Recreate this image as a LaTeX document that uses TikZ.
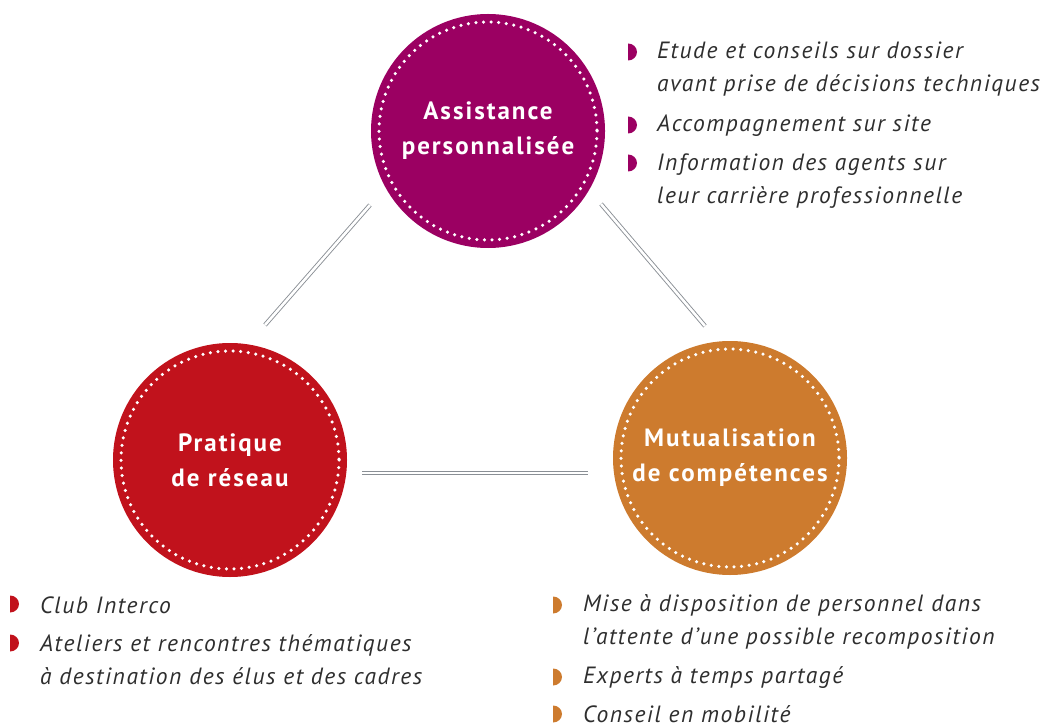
\documentclass[tikz,border=0pt]{standalone}
\usepackage{fontspec}
\setmainfont{PT Sans}
\newfontfamily\hubfont[LetterSpace=8]{PT Sans}
\newfontfamily\itemfont[LetterSpace=6.5]{PT Sans}
\definecolor{cpurple}{HTML}{9B0062}
\definecolor{cred}{HTML}{C1121C}
\definecolor{corange}{HTML}{CD7B2E}
\definecolor{ctext}{HTML}{2E2E2E}
\definecolor{cline}{HTML}{8A8F95}
\begin{document}
\begin{tikzpicture}[x=1pt,y=-1pt,
  hub/.style={circle,minimum size=234pt,inner sep=0pt,text=white,align=center,
    font=\hubfont\bfseries\fontsize{25}{35}\selectfont},
  ring/.style={white,line width=3.5pt,line cap=round,dash pattern=on 0pt off 7.6pt},
  link/.style={draw=cline,line width=0.9pt,double=white,double distance=2.6pt},
  item/.style={anchor=west,text=ctext,align=left,inner sep=0pt,
    font=\itemfont\itshape\fontsize{23.5}{33}\selectfont}]
\useasboundingbox (0,0) rectangle (1051,727);
% hubs
\node[hub,fill=cpurple] (top) at (488,131) {Assistance\\personnalisée};
\node[hub,fill=cred] (left) at (230,460) {Pratique\\de réseau};
\node[hub,fill=corange] (right) at (730,458) {Mutualisation\\de compétences};
\foreach \n in {top,left,right}{\draw[ring] (\n.center) circle (109);}
% connectors
\coordinate (tl1) at (370,205); \coordinate (tl2) at (265,325);
\coordinate (tr1) at (601,204); \coordinate (tr2) at (705,326);
\coordinate (b1) at (362,473); \coordinate (b2) at (588,473);
\draw[link] (tl1) -- (tl2);
\draw[link] (tr1) -- (tr2);
\draw[link] (b1) -- (b2);
% bullet
\tikzset{bul/.pic={\fill[pic actions] (0,-8.5) -- (0,8.5) arc[start angle=90,end angle=-90,x radius=9,y radius=8.5] -- cycle;}}
% top list
\pic[fill=cpurple] at (628,52) {bul};
\pic[fill=cpurple] at (628,125) {bul};
\pic[fill=cpurple] at (628,163) {bul};
\node[item] (t1) at (657,69) {Etude et conseils sur dossier\\avant prise de décisions techniques};
\node[item] (t2) at (657,126) {Accompagnement sur site};
\node[item] (t3) at (657,181) {Information des agents sur\\leur carrière professionnelle};
% left list
\pic[fill=cred] at (10,604) {bul};
\pic[fill=cred] at (10,643) {bul};
\node[item] (l1) at (40,605) {Club Interco};
\node[item] (l2) at (40,660) {Ateliers et rencontres thématiques\\à destination des élus et des cadres};
% right list
\pic[fill=corange] at (553,605) {bul};
\pic[fill=corange] at (553,677) {bul};
\pic[fill=corange] at (553,714) {bul};
\node[item] (r1) at (583,622) {Mise à disposition de personnel dans\\l’attente d’une possible recomposition};
\node[item] (r2) at (583,678) {Experts à temps partagé};
\node[item] (r3) at (583,714) {Conseil en mobilité};
\end{tikzpicture}
\end{document}
